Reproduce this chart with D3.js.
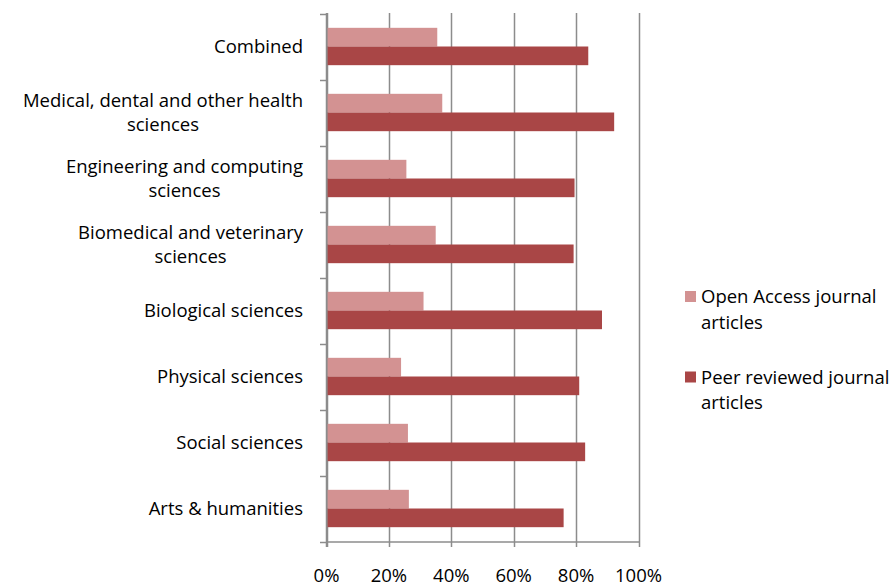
<html>
<script src="https://d3js.org/d3.v7.min.js"></script>
<style>
body { margin: 0; background: white; }
text { font-family: "Open Sans", Lato, sans-serif; fill: #000; }
</style>
<body>
<svg width="892" height="586"></svg>
<script>
// categories top to bottom, each as label lines
var categories = [
  ["Combined"],
  ["Medical, dental and other health", "sciences"],
  ["Engineering and computing", "sciences"],
  ["Biomedical and veterinary", "sciences"],
  ["Biological sciences"],
  ["Physical sciences"],
  ["Social sciences"],
  ["Arts & humanities"]
]
var openAccess = [35.5, 37.1, 25.6, 35.0, 31.1, 23.9, 26.1, 26.4]
var peerReviewed = [83.9, 92.2, 79.5, 79.2, 88.3, 81.0, 82.9, 76.0]
var xTicks = [0, 20, 40, 60, 80, 100]
var seriesNames = [["Open Access journal", "articles"], ["Peer reviewed journal", "articles"]]
var colors = ["#d39292", "#a94646"]

var fs = "18.5px"
var svg = d3.select("svg")
var x = d3.scaleLinear().domain([0, 100]).range([326.5, 638.5])
var y = d3.scaleBand().domain(d3.range(categories.length)).range([13.5, 541.5])
var bh = y.bandwidth() * 0.283

// gridlines
svg.append("g").selectAll("line")
  .data(xTicks).enter().append("line")
  .attr("x1", d => Math.round(x(d)) + 0.5).attr("x2", d => Math.round(x(d)) + 0.5)
  .attr("y1", 13).attr("y2", 547)
  .attr("stroke", "#8c8c8c").attr("stroke-width", 1.5)

// bars
var groups = svg.append("g").selectAll("g")
  .data(categories).enter().append("g")
groups.append("rect")
  .attr("x", x(0) + 1)
  .attr("y", (d, i) => y(i) + y.bandwidth() / 2 - bh)
  .attr("width", (d, i) => x(openAccess[i]) - x(0) - 1)
  .attr("height", bh)
  .attr("fill", colors[0])
groups.append("rect")
  .attr("x", x(0) + 1)
  .attr("y", (d, i) => y(i) + y.bandwidth() / 2)
  .attr("width", (d, i) => x(peerReviewed[i]) - x(0) - 1)
  .attr("height", bh)
  .attr("fill", colors[1])

// left axis line, ticks and bottom axis line
svg.append("line").attr("x1", 326.5).attr("x2", 326.5).attr("y1", 13).attr("y2", 547)
  .attr("stroke", "#8c8c8c").attr("stroke-width", 1.5)
svg.append("g").selectAll("line")
  .data(d3.range(categories.length + 1)).enter().append("line")
  .attr("x1", 320).attr("x2", 326)
  .attr("y1", d => Math.round(13.5 + d * y.step()) + 0.5)
  .attr("y2", d => Math.round(13.5 + d * y.step()) + 0.5)
  .attr("stroke", "#8c8c8c").attr("stroke-width", 1.5)
svg.append("line").attr("x1", 326).attr("x2", 639).attr("y1", 542).attr("y2", 542)
  .attr("stroke", "#8c8c8c").attr("stroke-width", 1.5)

// x tick labels
svg.append("g").selectAll("text")
  .data(xTicks).enter().append("text")
  .attr("x", d => x(d)).attr("y", 582)
  .attr("text-anchor", "middle")
  .style("font-size", fs)
  .text(d => d + "%")

// category labels
var labels = svg.append("g").selectAll("g")
  .data(categories).enter().append("g")
labels.each(function(lines, i) {
  var g = d3.select(this)
  var cy = y(i) + y.bandwidth() / 2
  var lh = 23.5
  var t = g.selectAll("text").data(lines).enter().append("text")
    .attr("y", (d, j) => cy + (j - (lines.length - 1) / 2) * lh + 6.5)
    .style("font-size", fs)
    .text(d => d)
  var w = d3.max(t.nodes(), n => n.getComputedTextLength())
  t.attr("x", 303 - w / 2).attr("text-anchor", "middle")
})

// legend
var legend = svg.append("g").selectAll("g")
  .data(seriesNames).enter().append("g")
  .attr("transform", (d, i) => "translate(685," + (291 + i * 80.5) + ")")
legend.append("rect").attr("width", 11).attr("height", 11).attr("fill", (d, i) => colors[i])
legend.selectAll("text").data(d => d).enter().append("text")
  .attr("x", 16).attr("y", (d, j) => 12 + j * 25.5)
  .style("font-size", fs)
  .text(d => d)
</script>
</body>
</html>
